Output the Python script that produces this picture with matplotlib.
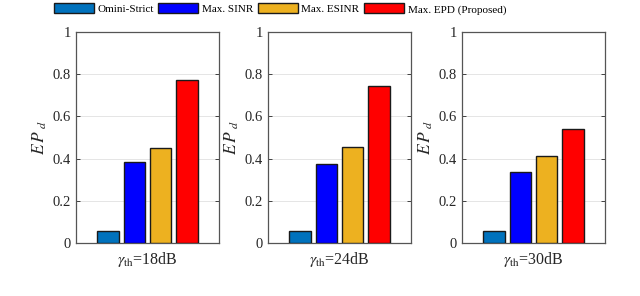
import matplotlib
matplotlib.use("Agg")
import matplotlib.pyplot as plt
import numpy as np

methods = ["Omini-Strict", "Max. SINR", "Max. ESINR", "Max. EPD (Proposed)"]
thresholds = ["18dB", "24dB", "30dB"]
values = {
    "18dB": [0.055, 0.382, 0.450, 0.773],
    "24dB": [0.055, 0.376, 0.453, 0.742],
    "30dB": [0.055, 0.336, 0.412, 0.540],
}
colors = ["#0072BD", "#0000FF", "#EDB120", "#FF0000"]
yticks = [0, 0.2, 0.4, 0.6, 0.8, 1]
yticklabels = ["0", "0.2", "0.4", "0.6", "0.8", "1"]

plt.rcParams["font.family"] = ["Liberation Serif", "DejaVu Serif"]
plt.rcParams["mathtext.fontset"] = "stix"
plt.rcParams["font.size"] = 9

fig = plt.figure(figsize=(6.4, 2.96), dpi=100)
W, H = 640, 296
lefts = [76, 268, 462]
aw = 143
top, bottom = 32, 243

spacing = 0.22
bw = 0.18
handles = []
for k, (l, th) in enumerate(zip(lefts, thresholds)):
    ax = fig.add_axes([l / W, 1 - bottom / H, aw / W, (bottom - top) / H])
    vals = values[th]
    for i, (v, c) in enumerate(zip(vals, colors)):
        b = ax.bar((i - 1.5) * spacing, v, width=bw, color=c,
                   edgecolor="#1a1a1a", linewidth=1.0, zorder=3,
                   label=methods[i])
        if k == 0:
            handles.append(b)
    ax.set_xlim(-0.6, 0.6)
    ax.set_ylim(0, 1)
    ax.set_yticks(yticks)
    ax.set_yticklabels(yticklabels)
    ax.set_xticks([0])
    ax.set_xticklabels([r"$\gamma_{\rm th}$=" + th], fontsize=11.5)
    ax.tick_params(axis="both", direction="in", length=3, width=0.6,
                   colors="#262626", labelsize=10.5, right=True, top=False,
                   labelcolor="#262626")
    ax.tick_params(axis="x", length=0, pad=5, labelsize=11.5)
    ax.yaxis.grid(True, color="#e0e0e0", linewidth=0.6, zorder=0)
    for s in ax.spines.values():
        s.set_color("#555555")
        s.set_linewidth(0.9)
    ax.set_ylabel(r"$E\,P_{\ d}$", fontsize=12.5, color="#262626", labelpad=3)

fig.legend(handles=handles, labels=methods, loc="center",
           bbox_to_anchor=(0.4375, 1 - 9 / H), ncol=4, frameon=False,
           fontsize=8, handlelength=3.6, handleheight=1.0,
           columnspacing=0.45, handletextpad=0.3, borderpad=0)

fig.savefig("out.png", dpi=100)
